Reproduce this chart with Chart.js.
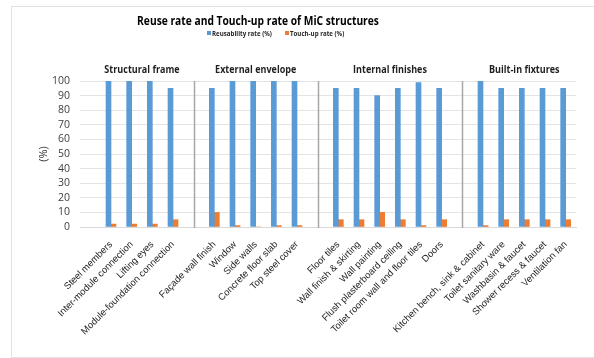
<!DOCTYPE html>
<html>
<head>
<meta charset="utf-8">
<script src="https://cdn.jsdelivr.net/npm/chart.js@4"></script>
<style>
  html, body { margin: 0; padding: 0; background: #fff; }
  #wrap { position: relative; width: 594px; height: 358px; }
  #frame { position: absolute; left: 11px; top: 6px; width: 583px; height: 350px;
           border-top: 1px solid #e2e2e2; border-left: 1px solid #e2e2e2; border-bottom: 1px solid #e2e2e2; }
  #myChart { position: absolute; left: 0; top: 0; }
</style>
</head>
<body>
<div id="wrap">
  <div id="frame"></div>
  <canvas id="myChart" width="594" height="358"></canvas>
</div>
<script>
// groups of MiC components and their rates (%)
const groupNames = ['Structural frame', 'External envelope', 'Internal finishes', 'Built-in fixtures'];
const groupItems = [
  ['Steel members', 'Inter-module connection', 'Lifting eyes', 'Module-foundation connection'],
  ['Façade wall finish', 'Window', 'Side walls', 'Concrete floor slab', 'Top steel cover'],
  ['Floor tiles', 'Wall finish & skirting', 'Wall painting', 'Flush plasterboard ceiling', 'Toilet room wall and floor tiles', 'Doors'],
  ['Kitchen bench, sink & cabinet', 'Toilet sanitary ware', 'Washbasin & faucet', 'Shower recess & faucet', 'Ventilation fan']
];
const reuseRate = [
  [100, 100, 100, 95],
  [95, 100, 100, 100, 100],
  [95, 95, 90, 95, 99, 95],
  [100, 95, 95, 95, 95]
];
const touchUpRate = [
  [2, 2, 2, 5],
  [10, 1, 0, 1, 1],
  [5, 5, 10, 5, 1, 5],
  [1, 5, 5, 5, 5]
];
const yTicks = [0, 10, 20, 30, 40, 50, 60, 70, 80, 90, 100];

// flatten with an empty slot before each group
let labels = [];
let reuseData = [];
let touchData = [];
let groupSpans = [];
for (let g = 0; g < groupNames.length; g++) {
  labels.push('');
  reuseData.push(null);
  touchData.push(null);
  let start = labels.length;
  for (let i = 0; i < groupItems[g].length; i++) {
    labels.push(groupItems[g][i]);
    reuseData.push(reuseRate[g][i]);
    touchData.push(touchUpRate[g][i]);
  }
  groupSpans.push({ name: groupNames[g], start: start, end: labels.length - 1 });
}

const blue = '#5b9bd5';
const orange = '#ed7d31';
const narrow = 0.82; // squeeze bold text a little, it reads too wide otherwise

function squeezedText(ctx, text, x, y) {
  ctx.save();
  ctx.translate(x, y);
  ctx.scale(narrow, 1);
  ctx.fillText(text, 0, 0);
  ctx.restore();
}

// title, legend, group headings and separators
const decor = {
  id: 'decor',
  afterDatasetsDraw(chart) {
    const ctx = chart.ctx;
    const x = chart.scales.x;
    const area = chart.chartArea;
    ctx.save();

    // separators between groups
    ctx.strokeStyle = '#a6a6a6';
    ctx.lineWidth = 1.5;
    for (let g = 1; g < groupSpans.length; g++) {
      let px = Math.round(x.getPixelForValue(groupSpans[g].start - 1)) + 0.5;
      ctx.beginPath();
      ctx.moveTo(px, area.top);
      ctx.lineTo(px, area.bottom + 1);
      ctx.stroke();
    }

    // group headings
    ctx.fillStyle = '#1f1f1f';
    ctx.font = 'bold 11px "Open Sans", sans-serif';
    ctx.textAlign = 'center';
    ctx.textBaseline = 'middle';
    groupSpans.forEach(s => {
      let cx = (x.getPixelForValue(s.start) + x.getPixelForValue(s.end)) / 2;
      squeezedText(ctx, s.name, cx, 70);
    });

    // title
    ctx.font = 'bold 12.5px "Open Sans", sans-serif';
    ctx.fillStyle = '#000';
    squeezedText(ctx, 'Reuse rate and Touch-up rate of MiC structures', 258, 21);

    // legend
    ctx.font = 'bold 7.5px "Open Sans", sans-serif';
    ctx.textAlign = 'left';
    ctx.fillStyle = blue;
    ctx.fillRect(207, 31, 4, 4);
    ctx.fillStyle = '#262626';
    squeezedText(ctx, 'Reusability rate (%)', 212, 33.5);
    ctx.fillStyle = orange;
    ctx.fillRect(285, 31, 4, 4);
    ctx.fillStyle = '#262626';
    squeezedText(ctx, 'Touch-up rate (%)', 290, 33.5);

    ctx.restore();
  }
};

const ctx1 = document.getElementById('myChart');

new Chart(ctx1, {
  type: 'bar',
  data: {
    labels: labels,
    datasets: [{
      label: 'Reusability rate (%)',
      data: reuseData,
      backgroundColor: blue,
      barThickness: 5
    }, {
      label: 'Touch-up rate (%)',
      data: touchData,
      backgroundColor: orange,
      barThickness: 5
    }]
  },
  options: {
    responsive: false,
    animation: false,
    layout: {
      padding: { left: 34, right: 18, top: 81, bottom: 0 }
    },
    plugins: {
      legend: { display: false },
      title: { display: false },
      tooltip: { enabled: false }
    },
    scales: {
      x: {
        grid: { display: false },
        border: { color: '#d9d9d9' },
        ticks: {
          autoSkip: false,
          maxRotation: 45,
          minRotation: 45,
          padding: 4,
          color: '#1f1f1f',
          font: { family: '"Liberation Sans", sans-serif', size: 9.5 }
        },
        afterFit(scale) { scale.height = 131; }
      },
      y: {
        min: 0,
        max: 100,
        afterBuildTicks(scale) { scale.ticks = yTicks.map(v => ({ value: v })); },
        grid: { color: '#e4e4e4', drawTicks: false },
        border: { display: false },
        ticks: {
          autoSkip: false,
          padding: 10,
          color: '#404040',
          font: { family: '"Open Sans", sans-serif', size: 10.5 }
        },
        title: {
          display: true,
          text: '(%)',
          color: '#262626',
          padding: { top: 3, bottom: 0 },
          font: { family: '"Open Sans", sans-serif', size: 11 }
        },
        afterFit(scale) { scale.width = 46; }
      }
    }
  },
  plugins: [decor]
});
</script>
</body>
</html>
